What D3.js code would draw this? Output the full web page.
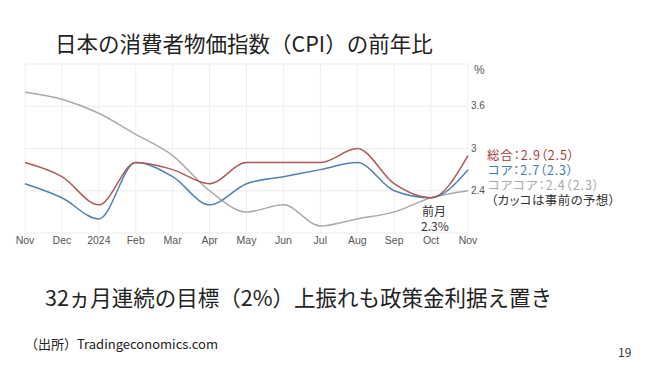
<!DOCTYPE html>
<html>
<head>
<meta charset="utf-8">
<script src="https://cdn.jsdelivr.net/npm/d3@7"></script>
<style>
  body { margin: 0; background: #fff; }
  svg { font-family: "Noto Sans CJK JP", "Noto Sans", sans-serif; }
  .palt { font-feature-settings: "palt"; }
</style>
</head>
<body>
<svg width="660" height="371"></svg>
<script>
var months = ["Nov", "Dec", "2024", "Feb", "Mar", "Apr", "May", "Jun", "Jul", "Aug", "Sep", "Oct", "Nov"];
var headline = [2.8, 2.6, 2.2, 2.8, 2.7, 2.5, 2.8, 2.8, 2.8, 3.0, 2.5, 2.3, 2.9];
var core = [2.5, 2.3, 2.0, 2.8, 2.6, 2.2, 2.5, 2.6, 2.7, 2.8, 2.4, 2.3, 2.7];
var coreCore = [3.8, 3.7, 3.5, 3.2, 2.9, 2.4, 2.1, 2.2, 1.9, 2.0, 2.1, 2.3, 2.4];
var gridValues = [1.8, 2.4, 3.0, 3.6, 4.2];
var tickLabels = ["3.6", "3", "2.4"];
var tickValues = [3.6, 3.0, 2.4];

var svg = d3.select("svg");

var xScale = d3.scaleLinear()
    .domain([0, months.length - 1])
    .range([25, 468]);

var yScale = d3.scaleLinear()
    .domain([1.8, 4.2])
    .range([233, 64]);

// title
svg.append("text")
    .attr("x", 55)
    .attr("y", 52)
    .attr("font-size", "21.5px")
    .attr("fill", "#222")
    .text("日本の消費者物価指数（CPI）の前年比");

var g = svg.append("g");

// grid
g.selectAll(".hgrid")
    .data(gridValues)
    .enter()
    .append("line")
    .attr("x1", xScale(0))
    .attr("x2", xScale(months.length - 1))
    .attr("y1", function(d) { return yScale(d); })
    .attr("y2", function(d) { return yScale(d); })
    .attr("stroke", "#ececec")
    .attr("stroke-width", 1);

g.selectAll(".vgrid")
    .data(months)
    .enter()
    .append("line")
    .attr("x1", function(d, i) { return xScale(i); })
    .attr("x2", function(d, i) { return xScale(i); })
    .attr("y1", yScale(4.2))
    .attr("y2", yScale(1.8))
    .attr("stroke", "#efefef")
    .attr("stroke-width", 1);

// x labels
g.selectAll(".mlabel")
    .data(months)
    .enter()
    .append("text")
    .attr("x", function(d, i) { return xScale(i); })
    .attr("y", 244)
    .attr("text-anchor", "middle")
    .attr("font-size", "10.5px")
    .attr("fill", "#555")
    .style("font-family", "'Liberation Sans', Arial, sans-serif")
    .text(function(d) { return d; });

// y labels on the right
g.selectAll(".ylabel")
    .data(tickValues)
    .enter()
    .append("text")
    .attr("x", 471)
    .attr("y", function(d) { return yScale(d) + 3; })
    .attr("font-size", "10px")
    .attr("fill", "#555")
    .style("font-family", "'Liberation Sans', Arial, sans-serif")
    .text(function(d, i) { return tickLabels[i]; });

g.append("text")
    .attr("x", 474)
    .attr("y", 74)
    .attr("font-size", "12px")
    .attr("fill", "#555")
    .style("font-family", "'Liberation Sans', Arial, sans-serif")
    .text("%");

var line = d3.line()
    .x(function(d, i) { return xScale(i); })
    .y(function(d) { return yScale(d); })
    .curve(d3.curveMonotoneX);

var series = [
  { values: coreCore, color: "#aaaaaa" },
  { values: core, color: "#4f82b0" },
  { values: headline, color: "#ad5a58" }
];

g.selectAll(".line")
    .data(series)
    .enter()
    .append("path")
    .attr("fill", "none")
    .attr("stroke", function(d) { return d.color; })
    .attr("stroke-width", 1.5)
    .attr("d", function(d) { return line(d.values); });

// legend on the right
var legend = [
  { text: "総合：2.9（2.5）", color: "#a83c3c", x: 487, y: 160, w: 87 },
  { text: "コア：2.7（2.3）", color: "#3f7eaa", x: 488, y: 175, w: 85 },
  { text: "コアコア：2.4（2.3）", color: "#a8a8a8", x: 488, y: 190, w: 111 },
  { text: "（カッコは事前の予想）", color: "#333", x: 491, y: 205, w: 124 }
];

svg.selectAll(".legend")
    .data(legend)
    .enter()
    .append("text")
    .attr("class", "palt")
    .attr("x", function(d) { return d.x; })
    .attr("y", function(d) { return d.y; })
    .attr("font-size", "12.5px")
    .attr("fill", function(d) { return d.color; })
    .attr("textLength", function(d) { return d.w; })
    .attr("lengthAdjust", "spacing")
    .text(function(d) { return d.text; });

svg.append("text")
    .attr("x", 422)
    .attr("y", 216)
    .attr("font-size", "12px")
    .attr("fill", "#333")
    .text("前月");

svg.append("text")
    .attr("x", 421)
    .attr("y", 231)
    .attr("font-size", "12px")
    .attr("fill", "#333")
    .text("2.3%");

// bottom texts
svg.append("text")
    .attr("x", 45)
    .attr("y", 306)
    .attr("font-size", "21.5px")
    .attr("fill", "#222")
    .text("32ヵ月連続の目標（2%）上振れも政策金利据え置き");

svg.append("text")
    .attr("x", 25)
    .attr("y", 349)
    .attr("font-size", "13px")
    .attr("fill", "#222")
    .text("（出所）Tradingeconomics.com");

svg.append("text")
    .attr("x", 618)
    .attr("y", 357)
    .attr("font-size", "12px")
    .attr("fill", "#333")
    .text("19");
</script>
</body>
</html>
